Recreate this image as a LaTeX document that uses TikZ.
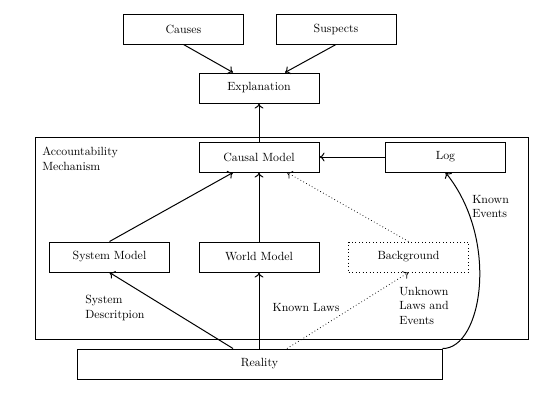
\documentclass[tikz,border=0pt]{standalone}
\usetikzlibrary{arrows.meta}
\begin{document}
\begin{tikzpicture}[x=0.8pt,y=-0.8pt,
  box/.style={draw,line width=0.8pt,minimum width=96pt,minimum height=24pt,inner sep=0pt,font=\fontsize{9.5}{11}\selectfont},
  dbox/.style={box,dotted},
  lbl/.style={inner sep=0pt,align=left,font=\fontsize{9.5}{11.5}\selectfont},
  arr/.style={line width=0.8pt,-{To[length=4pt,width=7pt]}},
  darr/.style={line width=0.6pt,dotted,-{To[length=4pt,width=7pt]}}]
\useasboundingbox (0,0) rectangle (538,416);
% outer mechanism box
\node[draw,line width=0.8pt,minimum width=394.4pt,minimum height=161.6pt,inner sep=0pt] (mech) at (281.5,238) {};
\node[lbl,anchor=north west] (mechlbl) at (42,147) {Accountability\\Mechanism};
% nodes
\node[box] (causes) at (183.5,29) {Causes};
\node[box] (suspects) at (336,29) {Suspects};
\node[box] (expl) at (259,88) {Explanation};
\node[box] (causal) at (259,157) {Causal Model};
\node[box] (log) at (445.5,157) {Log};
\node[box] (sys) at (109.5,257) {System Model};
\node[box] (world) at (259,257) {World Model};
\node[dbox] (bg) at (408.5,257) {Background};
\node[draw,line width=0.8pt,minimum width=292pt,minimum height=24pt,inner sep=0pt,font=\fontsize{9.5}{11}\selectfont] (reality) at (259.5,364) {Reality};
% labels
\node[lbl,anchor=north west] (kev) at (472,195) {Known\\Events};
\node[lbl,anchor=north west] (sysd) at (85,295) {System\\Descritpion};
\node[lbl] (klaws) at (306,308) {Known Laws};
\node[lbl,anchor=north west] (ulaws) at (399,287) {Unknown\\Laws and\\Events};
% connectors
\draw[arr] (causes.south) -- (expl.north -| 233,0);
\draw[arr] (suspects.south) -- (expl.north -| 285,0);
\draw[arr] (causal.north) -- (expl.south);
\draw[arr] (log.west) -- (causal.east);
\draw[arr] (sys.north) -- (causal.south -| 233,0);
\draw[arr] (world.north) -- (causal.south -| world.north);
\draw[darr] (bg.north) -- (causal.south -| 287,0);
\draw[arr] (reality.north -| 233,0) -- (sys.south);
\draw[arr] (reality.north -| world.south) -- (world.south);
\draw[darr] (reality.north -| 287,0) -- (bg.south);
\draw[arr] (reality.north east) .. controls (482,349) and (500,240) .. (log.south);
\end{tikzpicture}
\end{document}
